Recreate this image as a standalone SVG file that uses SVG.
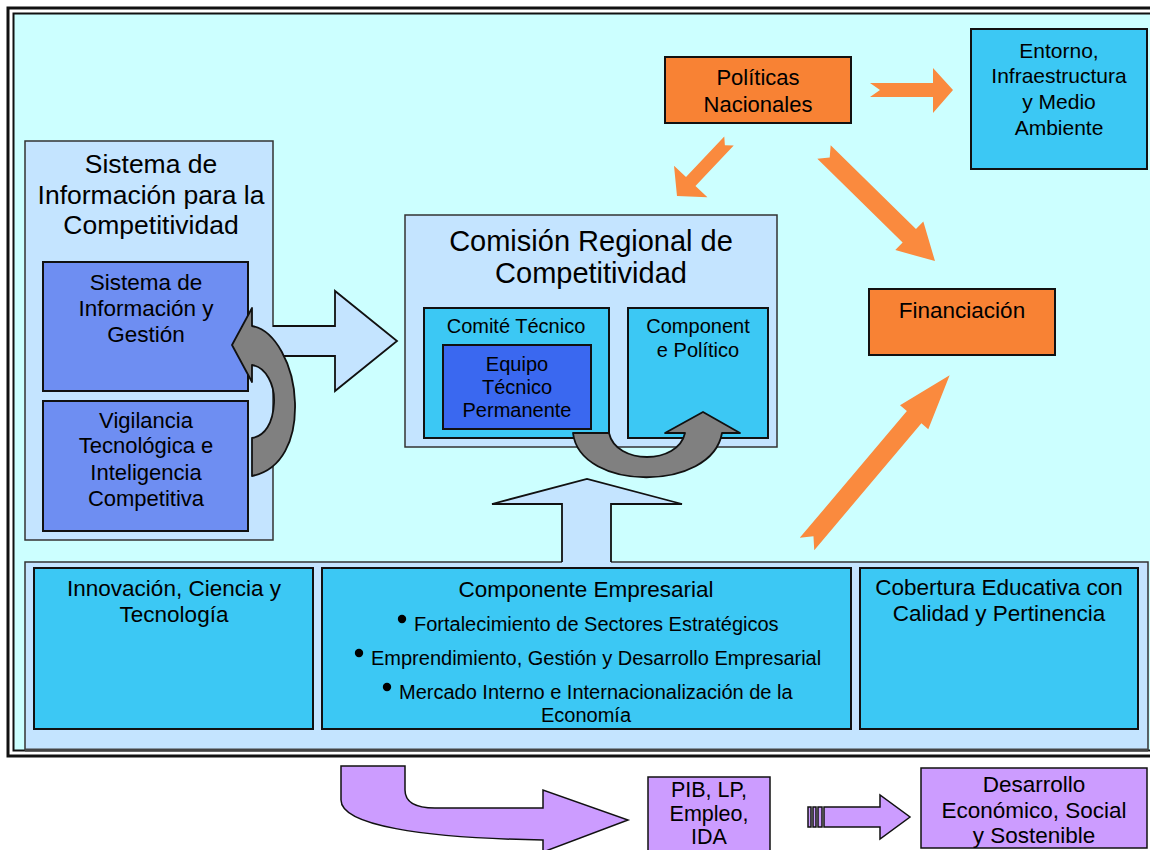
<svg xmlns="http://www.w3.org/2000/svg" width="1150" height="850" viewBox="0 0 1150 850">
<defs>
<style>
.t{font-family:"Liberation Sans",Arial,sans-serif;fill:#000;text-anchor:middle}
.st{font-family:"Liberation Sans",Arial,sans-serif;fill:#000;text-anchor:start}
.cont{fill:#c4e4ff;stroke:#333;stroke-width:1.5}
.cyan{fill:#3cc8f4;stroke:#111;stroke-width:2}
.blue{fill:#6e8ef2;stroke:#111;stroke-width:2}
.dblue{fill:#3a68f0;stroke:#111;stroke-width:2}
.org{fill:#f88234;stroke:#111;stroke-width:2}
.purp{fill:#cc9cff;stroke:#111;stroke-width:1.5}
.oarr{fill:#fa8a3e;stroke:none}
.garr{fill:#808080;stroke:#111;stroke-width:1.8;stroke-linejoin:round}
.barr{fill:#c4e4ff;stroke:none}
.bline{fill:none;stroke:#111;stroke-width:1.8;stroke-linejoin:miter}
</style>
</defs>
<rect x="0" y="0" width="1150" height="850" fill="#fff"/>
<!-- outer double frame -->
<rect x="8" y="8" width="1160" height="748" fill="#fff" stroke="#111" stroke-width="3"/>
<rect x="13.5" y="13.5" width="1150" height="737" fill="#ccffff" stroke="#111" stroke-width="2"/>

<g id="sistema-competitividad">
<rect class="cont" x="25" y="141" width="248" height="399"/>
<text class="t" font-size="26.5" x="151" y="173">Sistema de</text>
<text class="t" font-size="26.5" x="151" y="204">Información para la</text>
<text class="t" font-size="26.5" x="151" y="234">Competitividad</text>
</g>
<g id="sistema-info-gestion">
<rect class="blue" x="43" y="262" width="205" height="129"/>
<text class="t" font-size="22.5" x="146" y="290">Sistema de</text>
<text class="t" font-size="22.5" x="146" y="316">Información y</text>
<text class="t" font-size="22.5" x="146" y="342">Gestión</text>
</g>
<g id="vigilancia">
<rect class="blue" x="43" y="401" width="205" height="130"/>
<text class="t" font-size="22" x="146" y="428">Vigilancia</text>
<text class="t" font-size="22" x="146" y="453">Tecnológica e</text>
<text class="t" font-size="22" x="146" y="480">Inteligencia</text>
<text class="t" font-size="22" x="146" y="506">Competitiva</text>
</g>

<g id="comision">
<rect class="cont" x="405" y="215" width="372" height="232"/>
<text class="t" font-size="29" x="591" y="251">Comisión Regional de</text>
<text class="t" font-size="29" x="591" y="283">Competitividad</text>
</g>
<g id="comite">
<rect class="cyan" x="424" y="308" width="185" height="130"/>
<text class="t" font-size="20" x="516" y="333">Comité Técnico</text>
</g>
<g id="equipo">
<rect class="dblue" x="443" y="345" width="148" height="84"/>
<text class="t" font-size="20" x="517" y="371">Equipo</text>
<text class="t" font-size="20" x="517" y="394">Técnico</text>
<text class="t" font-size="20" x="517" y="417">Permanente</text>
</g>
<g id="componente-politico">
<rect class="cyan" x="628" y="308" width="140" height="130"/>
<text class="t" font-size="20" x="698" y="333">Component</text>
<text class="t" font-size="20" x="698" y="357">e Político</text>
</g>

<g id="politicas">
<rect class="org" x="665" y="57" width="186" height="66"/>
<text class="t" font-size="22" x="758" y="85">Políticas</text>
<text class="t" font-size="22" x="758" y="112">Nacionales</text>
</g>
<g id="entorno">
<rect class="cyan" x="971" y="29" width="176" height="140" stroke-width="2.5"/>
<text class="t" font-size="21" x="1059" y="58">Entorno,</text>
<text class="t" font-size="21" x="1059" y="83">Infraestructura</text>
<text class="t" font-size="21" x="1059" y="109">y Medio</text>
<text class="t" font-size="21" x="1059" y="135">Ambiente</text>
</g>
<g id="financiacion">
<rect class="org" x="869" y="289" width="186" height="66"/>
<text class="t" font-size="22.5" x="962" y="318">Financiación</text>
</g>

<g id="ejes">
<rect class="cont" x="25" y="562" width="1123" height="188"/>
<line x1="25" y1="750" x2="1148" y2="750" stroke="#444" stroke-width="3"/>
</g>
<g id="innovacion">
<rect class="cyan" x="34" y="568" width="279" height="161"/>
<text class="t" font-size="22.5" x="174" y="596">Innovación, Ciencia y</text>
<text class="t" font-size="22.5" x="174" y="622">Tecnología</text>
</g>
<g id="componente-empresarial">
<rect class="cyan" x="322" y="568" width="529" height="161"/>
<text class="t" font-size="22.5" x="586" y="597">Componente Empresarial</text>
<circle cx="402" cy="619" r="4.2"/>
<text class="st" font-size="20" x="414" y="631">Fortalecimiento de Sectores Estratégicos</text>
<circle cx="359" cy="653" r="4.2"/>
<text class="st" font-size="20" x="371" y="665">Emprendimiento, Gestión y Desarrollo Empresarial</text>
<circle cx="387" cy="687" r="4.2"/>
<text class="st" font-size="20" x="399" y="699">Mercado Interno e Internacionalización de la</text>
<text class="t" font-size="20" x="586" y="722">Economía</text>
</g>
<g id="cobertura">
<rect class="cyan" x="860" y="568" width="278" height="161"/>
<text class="t" font-size="22.5" x="999" y="595">Cobertura Educativa con</text>
<text class="t" font-size="22.5" x="999" y="621">Calidad y Pertinencia</text>
</g>

<g id="pib">
<rect class="purp" x="648" y="777" width="122" height="80"/>
<text class="t" font-size="21.5" x="709" y="797">PIB, LP,</text>
<text class="t" font-size="21.5" x="709" y="821">Empleo,</text>
<text class="t" font-size="21.5" x="709" y="844">IDA</text>
</g>
<g id="desarrollo">
<rect class="purp" x="921" y="768" width="226" height="80"/>
<text class="t" font-size="22.5" x="1034" y="792">Desarrollo</text>
<text class="t" font-size="22.5" x="1034" y="818">Económico, Social</text>
<text class="t" font-size="22.5" x="1034" y="843">y Sostenible</text>
</g>

<g id="connectors">
<!-- big right arrow from Sistema to Comisión -->
<polygon class="barr" points="271,327 335,327 335,291 397,341 335,391 335,356 271,356"/>
<polyline class="bline" points="273,326 335,326 335,291 397,341 335,391 335,356 273,356"/>
<!-- up arrow from ejes to Comisión -->
<polygon class="barr" points="562,565 562,504 492,504 587,479 682,504 611,504 611,565"/>
<polyline class="bline" points="562,562 562,504 492,504 587,479 682,504 611,504 611,562"/>
<!-- gray curved arrows -->
<path class="garr" d="M252,476 C282,470 296,440 295,403 C294,365 275,330 252,326 L252,308 L232,345 L252,382 L252,365 C266,367 275,385 274,403 C273,423 265,436 252,438 Z"/>
<path class="garr" d="M573,433 C580,492 712,492 722,433 L740,433 L703,412 L665,433 L685,433 C678,465 616,465 609,433 Z"/>
<!-- orange arrows -->
<polygon class="oarr" points="870,83 933,83 933,68 953,90 933,113 933,97 870,97 880,90"/>
<path class="oarr" transform="translate(729,141) rotate(133.4)" d="M0,-6.5 L55.7,-6.5 L55.7,-23 L75.7,0 L55.7,23 L55.7,6.5 L0,6.5 L6,0 Z"/>
<path class="oarr" transform="translate(824,152) rotate(44.5)" d="M0,-9.5 L119.6,-9.5 L119.6,-20 L155.6,0 L119.6,20 L119.6,9.5 L0,9.5 L8,0 Z"/>
<path class="oarr" transform="translate(807,544) rotate(-49.8)" d="M0,-9.5 L166,-9.5 L166,-18.5 L221,0 L166,18.5 L166,9.5 L0,9.5 L10,0 Z"/>
<!-- purple curved arrow -->
<path class="purp" d="M341,766 L405,766 L405,790 C405,802 415,808 435,808 L543,808 L543,790 L628,820 L543,852 L543,840 C420,838 341,825 341,800 Z"/>
<!-- striped arrow PIB to Desarrollo -->
<rect class="purp" x="808" y="807" width="3" height="20" stroke-width="1.2"/>
<rect class="purp" x="813" y="807" width="3" height="20" stroke-width="1.2"/>
<rect class="purp" x="818" y="807" width="4" height="20" stroke-width="1.2"/>
<polygon class="purp" points="824,807 880,807 880,795 910,817 880,839 880,827 824,827"/>
</g>
</svg>
